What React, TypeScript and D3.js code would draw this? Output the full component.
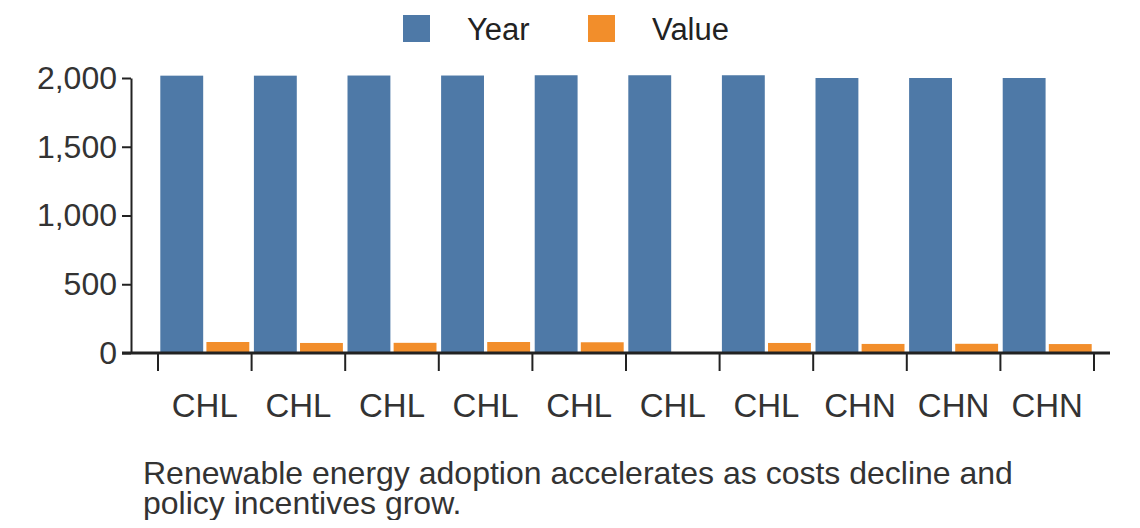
import React, { useRef, useEffect } from 'react';
import * as d3 from 'd3';

const categories = ['CHL', 'CHL', 'CHL', 'CHL', 'CHL', 'CHL', 'CHL', 'CHN', 'CHN', 'CHN'];
const yearValues = [2017, 2017, 2018, 2018, 2020, 2020, 2020, 2000, 2000, 2000];
const valueValues = [80, 73, 74, 80, 78, 0, 73, 66, 67, 65];
const seriesNames = ['Year', 'Value'];
const colors = ['#4e79a7', '#f28e2b'];
const yTicks = [0, 500, 1000, 1500, 2000];

function App() {
  const svgRef = useRef<SVGSVGElement>(null);

  useEffect(() => {
    const svg = d3.select(svgRef.current);
    svg.selectAll('*').remove();
    const font = 'Liberation Sans, Arial, sans-serif';

    const x = d3.scaleBand<number>().domain(d3.range(categories.length)).range([150, 1086]).padding(0);
    const inner = d3.scaleBand<string>().domain(seriesNames).range([0, x.bandwidth()]).paddingInner(0.07).paddingOuter(0.05);
    const y = d3.scaleLinear().domain([0, 2000]).range([345, 70]);

    // bars
    const g = svg.append('g');
    categories.forEach((c, i) => {
      const vals = [yearValues[i], valueValues[i]];
      vals.forEach((v, j) => {
        if (!v) return;
        g.append('rect')
          .attr('x', x(i)! + inner(seriesNames[j])!)
          .attr('y', y(v))
          .attr('width', inner.bandwidth())
          .attr('height', y(0) - y(v))
          .attr('fill', colors[j]);
      });
    });

    // y axis
    const yAxis = svg.append('g').attr('transform', 'translate(123,0)')
      .call(d3.axisLeft(y).tickValues(yTicks).tickSize(9).tickSizeOuter(0).tickFormat(d3.format(',')));
    yAxis.select('.domain').attr('stroke', '#222').attr('stroke-width', 2);
    yAxis.selectAll('.tick line').attr('stroke', '#222').attr('stroke-width', 2);
    yAxis.selectAll('text').attr('font-size', 32).attr('font-family', font).attr('fill', '#333').attr('dx', -2);

    // x axis
    const xa = svg.append('g').attr('transform', `translate(0,${y(0)})`);
    xa.append('line').attr('x1', 114).attr('x2', 1102).attr('stroke', '#222').attr('stroke-width', 3);
    const edges = d3.range(categories.length + 1).map(i => 150 + i * x.step());
    xa.selectAll('.tk').data(edges).join('line')
      .attr('x1', d => d).attr('x2', d => d).attr('y1', 0).attr('y2', 18)
      .attr('stroke', '#222').attr('stroke-width', 2);
    xa.selectAll('.lbl').data(categories).join('text')
      .attr('x', (d, i) => x(i)! + x.bandwidth() / 2).attr('y', 64)
      .attr('text-anchor', 'middle').attr('font-size', 33).attr('font-family', font).attr('fill', '#333')
      .text(d => d);

    // legend
    const legX = [395, 580];
    seriesNames.forEach((s, j) => {
      svg.append('rect').attr('x', legX[j]).attr('y', 7).attr('width', 27).attr('height', 27).attr('fill', colors[j]);
      svg.append('text').attr('x', legX[j] + 64).attr('y', 32).attr('font-size', 31).attr('font-family', font)
        .attr('fill', '#222').text(s);
    });

    // caption
    const caption = ['Renewable energy adoption accelerates as costs decline and', 'policy incentives grow.'];
    caption.forEach((t, i) => {
      svg.append('text').attr('x', 135).attr('y', 476 + i * 30).attr('font-size', 32).attr('font-family', font)
        .attr('fill', '#333').text(t);
    });
  }, []);

  return <svg ref={svgRef} width={1124} height={512} style={{ display: 'block' }} />;
}

export default App;
